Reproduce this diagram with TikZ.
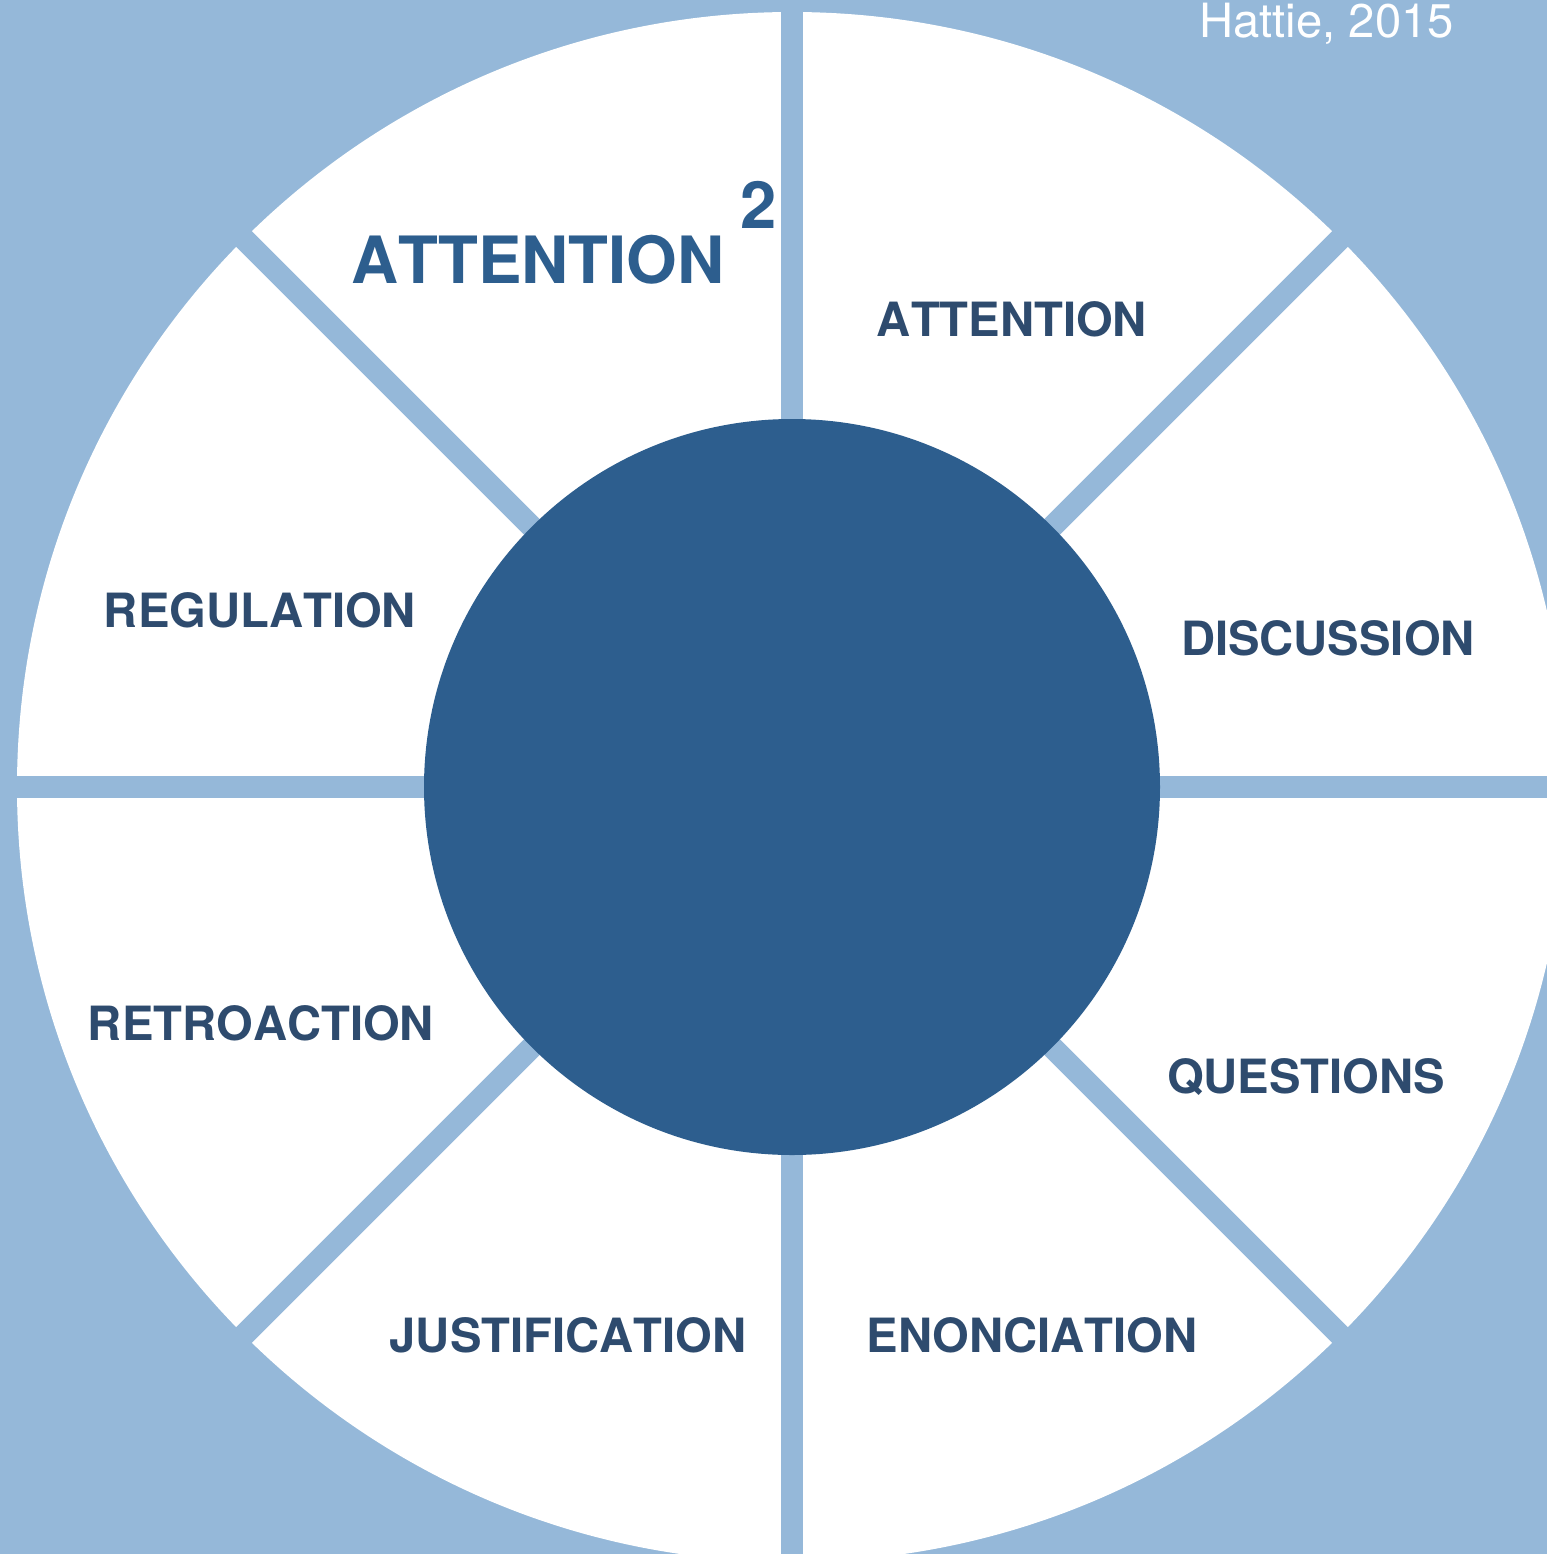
\documentclass[tikz,border=0pt]{standalone}
\usepackage{fontspec}
\setmainfont{TeX Gyre Heros}[Kerning=Off]
\usetikzlibrary{positioning}

\definecolor{paleblue}{HTML}{95B8D9}
\definecolor{hubblue}{HTML}{2D5E8E}
\definecolor{navy}{HTML}{2E4B6E}

\tikzset{
  lbl/.style={text=navy, font=\bfseries\fontsize{23.6}{28}\selectfont, inner sep=0pt, anchor=base},
  biglbl/.style={text=hubblue, font=\bfseries\fontsize{32.6}{38}\selectfont, inner sep=0pt, anchor=base},
  gap/.style={paleblue, line width=11pt}
}

\begin{document}
\begin{tikzpicture}[x=0.5pt, y=-0.5pt]
\useasboundingbox (0,0) rectangle (1547,1554);
\fill[paleblue] (0,0) rectangle (1547,1554);
\fill[white] (792,787) circle (387.5pt);
% spokes between the sectors
\foreach \a in {0,45,90,135}{
    \draw[gap] (792,787) ++(\a:820) -- ++(\a+180:1640);}
\node (hub) [circle, fill=hubblue, minimum size=368pt, inner sep=0pt] at (792,787) {};

\node[biglbl] (attn2) at (538,283) {ATTENTION};
\node[biglbl, anchor=base west] (sq) at (740,228) {2};
\node[lbl] (attention) at (1012,336) {ATTENTION};
\node[lbl] (regulation) at (260,627) {REGULATION};
\node[lbl] (discussion) at (1328,655) {DISCUSSION};
\node[lbl] (retroaction) at (261,1040) {RETROACTION};
\node[lbl] (questions) at (1306,1093) {QUESTIONS};
\node[lbl] (justification) at (568,1352) {JUSTIFICATION};
\node[lbl] (enonciation) at (1032,1352) {ENONCIATION};

\node[anchor=base west, inner sep=0pt, text=white, font=\fontsize{23.6}{28}\selectfont] (source) at (1199,37) {Hattie, 2015};
\end{tikzpicture}
\end{document}
